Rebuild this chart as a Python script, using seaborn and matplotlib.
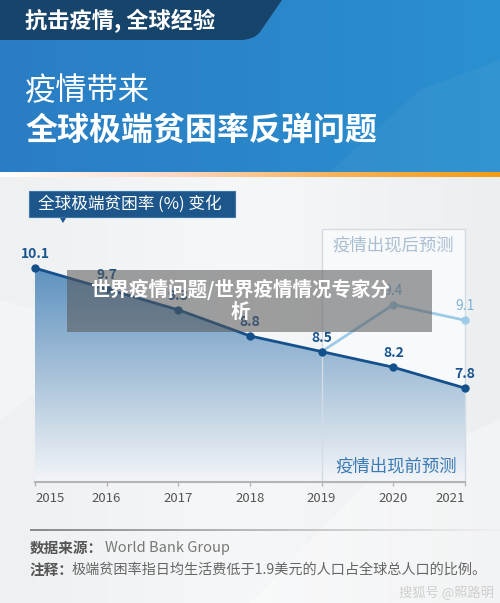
import matplotlib
matplotlib.use("Agg")
import matplotlib.pyplot as plt
import seaborn as sns
import numpy as np
from matplotlib.colors import LinearSegmentedColormap
from matplotlib.patches import Rectangle, Polygon, PathPatch
from matplotlib.path import Path

# ---------------------------------------------------------------------------
# data
# ---------------------------------------------------------------------------
years = [2015, 2016, 2017, 2018, 2019, 2020, 2021]
pre_rate = [10.1, 9.7, 9.3, 8.8, 8.5, 8.2, 7.8]      # 疫情出现前预测
post_years = [2019, 2020, 2021]
post_rate = [8.5, 9.4, 9.1]                          # 疫情出现后预测

header_small = "抗击疫情, 全球经验"
header_line1 = "疫情带来"
header_line2 = "全球极端贫困率反弹问题"
chart_title = "全球极端贫困率 (%) 变化"
post_label = "疫情出现后预测"
pre_label = "疫情出现前预测"
source_key = "数据来源："
source_val = "World Bank Group"
note_key = "注释："
note_val = "极端贫困率指日均生活费低于1.9美元的人口占全球总人口的比例。"
watermark = "搜狐号 @照路明"
overlay_text = "世界疫情问题/世界疫情情况专家分\n析"

sns.set_theme(style="white")
plt.rcParams["font.family"] = ["Noto Sans CJK SC", "DejaVu Sans"]

W, H = 500, 603
fig = plt.figure(figsize=(W / 100, H / 100), dpi=100)

# background axes in pixel coordinates
bg = fig.add_axes([0, 0, 1, 1], zorder=0)
bg.set_xlim(0, W)
bg.set_ylim(H, 0)
bg.axis("off")

# lower light background
low_cmap = LinearSegmentedColormap.from_list("low", ["#eef0f2", "#f6f7f8", "#eceef0"])
bg.imshow(np.linspace(0, 1, 256).reshape(1, -1), extent=[0, W, H, 175],
          cmap=low_cmap, aspect="auto", zorder=0)
bg.add_patch(Polygon([(250, 603), (380, 470), (500, 420), (500, 603)],
                     closed=True, fc="white", ec="none", alpha=0.35, zorder=0.5))
bg.add_patch(Polygon([(0, 420), (120, 330), (0, 300)],
                     closed=True, fc="white", ec="none", alpha=0.3, zorder=0.5))

# header
head_cmap = LinearSegmentedColormap.from_list("head", ["#2b7dc4", "#2a86c9", "#2b90d0"])
bg.imshow(np.linspace(0, 1, 256).reshape(1, -1), extent=[0, W, 172, 0],
          cmap=head_cmap, aspect="auto", zorder=1)
bg.add_patch(Polygon([(330, 172), (420, 90), (500, 60), (500, 172)],
                     closed=True, fc="white", ec="none", alpha=0.04, zorder=1.2))
band = Path([(0, 0), (282, 0), (260, 32), (254, 40), (240, 40), (0, 40), (0, 0)],
            [Path.MOVETO, Path.LINETO, Path.LINETO, Path.CURVE3, Path.CURVE3,
             Path.LINETO, Path.CLOSEPOLY])
bg.add_patch(PathPatch(band, fc="#17446a", ec="none", zorder=1.5))
strip_cmap = LinearSegmentedColormap.from_list("strip", ["#ffffff", "#fbd9c8", "#f6b35a", "#f39c12"])
bg.imshow(np.linspace(0, 1, 256).reshape(1, -1), extent=[0, W, 177, 172],
          cmap=strip_cmap, aspect="auto", zorder=1)

bg.text(25, 21, header_small, color="white", fontsize=16, fontweight="bold",
        va="center", ha="left", zorder=3)
bg.text(25, 91, header_line1, color="white", fontsize=22.5,
        va="center", ha="left", zorder=3)
bg.text(25, 131, header_line2, color="white", fontsize=23, fontweight="bold",
        va="center", ha="left", zorder=3)

# chart title box
bg.add_patch(Rectangle((29, 191), 206, 26, fc="#1d568a", ec="#3d75a8", lw=0.8, zorder=2))
bg.add_patch(Polygon([(60, 218), (66, 218), (63, 223)], closed=True,
                     fc="#1d568a", ec="none", zorder=2))
bg.text(38, 204, chart_title, color="white", fontsize=12, va="center", ha="left", zorder=3)

# post-pandemic box fill
bg.add_patch(Rectangle((322, 229), 143, 253, fc="#f8f9fb", ec="none", zorder=1))
bg.text(393.5, 245, post_label, color="#a9bfd1", fontsize=12.5,
        va="center", ha="center", zorder=3)

# ---------------------------------------------------------------------------
# chart
# ---------------------------------------------------------------------------
ymin, ymax = 6.0, 10.85
ax = fig.add_axes([35 / W, 1 - 482 / H, 430 / W, (482 - 229) / H], zorder=2)
ax.set_facecolor("none")

poly = ax.fill_between(years, pre_rate, ymin, color="none", lw=0)
fill_cmap = LinearSegmentedColormap.from_list("fill", ["#5f92c0", "#a8c2d9", "#f3f5f8"])
im = ax.imshow(np.linspace(0, 1, 256).reshape(-1, 1), extent=[2015, 2021, ymin, max(pre_rate)],
               aspect="auto", cmap=fill_cmap, origin="upper", zorder=1)
im.set_clip_path(poly.get_paths()[0], transform=ax.transData)

ax.add_patch(Rectangle((2019, ymin), 2, ymax - ymin, fill=False, ec="#d3dce4",
                       lw=1, zorder=1.5, clip_on=False))

sns.lineplot(x=post_years, y=post_rate, ax=ax, color="#9dcae6", linewidth=2,
             marker="o", markersize=6, markeredgewidth=0, zorder=3)
sns.lineplot(x=years, y=pre_rate, ax=ax, color="#14508b", linewidth=2,
             marker="o", markersize=6, markeredgewidth=0, zorder=4)
for ln in ax.lines:
    ln.set_clip_on(False)

for x, v in zip(years, pre_rate):
    ax.annotate(f"{v:.1f}", (x, v), xytext=(0, 5), textcoords="offset points",
                ha="center", va="bottom", fontsize=10, fontweight="bold", color="#1a5590")
for x, v in zip(post_years[1:], post_rate[1:]):
    ax.annotate(f"{v:.1f}", (x, v), xytext=(0, 5), textcoords="offset points",
                ha="center", va="bottom", fontsize=10, color="#7fb3d9")

ax.set_xlim(2015, 2021)
ax.set_ylim(ymin, ymax)
ax.set_xticks(years, labels=[str(y) for y in years])
ax.set_yticks([])
ax.set_xlabel("")
ax.set_ylabel("")
sns.despine(ax=ax, left=True, top=True, right=True)
ax.spines["bottom"].set_color("#b4b4b4")
ax.spines["bottom"].set_linewidth(1.5)
ax.tick_params(axis="x", bottom=True, length=3, width=1, color="#b4b4b4",
               labelcolor="#555555", labelsize=9.5, pad=4)
tl = ax.get_xticklabels()
tl[0].set_ha("left")
tl[-1].set_ha("right")
ax.text(2020.04, 6.3, pre_label, color="#3b7ab3", fontsize=12.5, ha="center", va="center", zorder=5)

# ---------------------------------------------------------------------------
# footer
# ---------------------------------------------------------------------------
sep_cmap = LinearSegmentedColormap.from_list("sep", ["#8a8a8a", "#bdbdbd", "#f0f0f0"])
bg.imshow(np.linspace(0, 1, 256).reshape(1, -1), extent=[30, W, 531, 529.5],
          cmap=sep_cmap, aspect="auto", zorder=2)
bg.text(30, 548, source_key, color="#555555", fontsize=10.5, fontweight="bold", va="center", zorder=3)
bg.text(105, 548, source_val, color="#777777", fontsize=10.5, va="center", zorder=3)
bg.text(30, 570, note_key, color="#555555", fontsize=10.5, fontweight="bold", va="center", zorder=3)
bg.text(72, 570, note_val, color="#666666", fontsize=10.2, va="center", zorder=3)
bg.text(494, 593, watermark, color="#cfcfcf", fontsize=9.5, ha="right", va="center", zorder=3)

# ---------------------------------------------------------------------------
# overlay caption
# ---------------------------------------------------------------------------
top = fig.add_axes([0, 0, 1, 1], zorder=10)
top.set_xlim(0, W)
top.set_ylim(H, 0)
top.axis("off")
top.set_facecolor("none")
top.add_patch(Rectangle((67, 270), 365, 62, fc="#555555", ec="none", alpha=0.55))
top.text(240, 300, overlay_text, color="white", fontsize=14, fontweight="bold",
         ha="center", va="center", multialignment="center", linespacing=1.2)

fig.savefig("out.png", dpi=100)
